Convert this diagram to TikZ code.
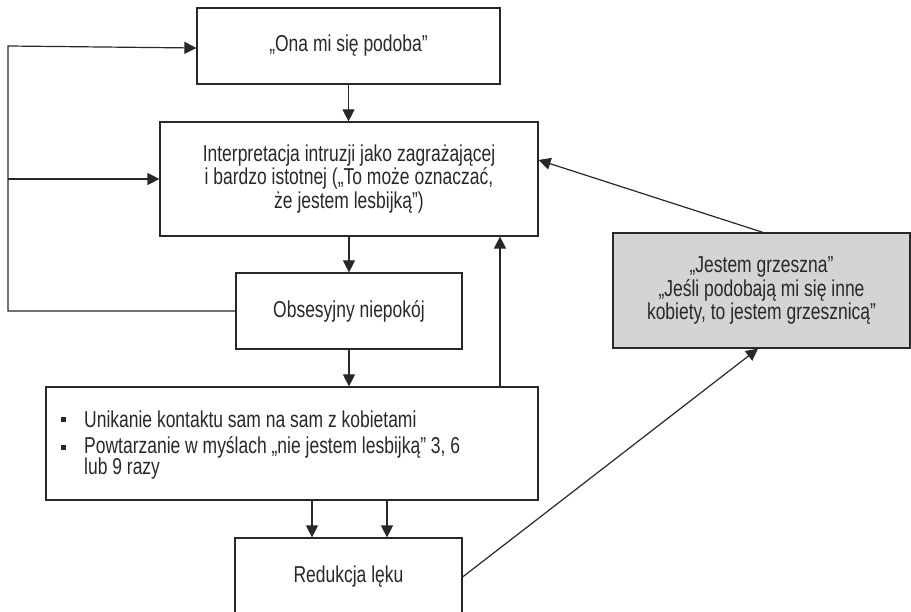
\documentclass[tikz,border=0pt]{standalone}
\usepackage{fontspec}
\setmainfont{Liberation Sans}[FakeStretch=0.76]
\usetikzlibrary{arrows.meta}
\definecolor{boxgray}{RGB}{212,212,214}
\definecolor{ink}{RGB}{40,40,40}
\begin{document}
\begin{tikzpicture}[x=1pt,y=-1pt,
  box/.style={draw=ink, line width=1.2pt, rectangle, inner sep=0pt, align=center, font=\fontsize{23}{23.5}\selectfont, text=ink},
  txt/.style={inner sep=0pt, font=\fontsize{23}{23.5}\selectfont, text=ink},
  arr/.style={draw=ink, line width=1.2pt, -{Triangle[length=12pt,width=12pt]}},
  ln/.style={draw=ink, line width=1.2pt},
  bullet/.style={fill=ink, minimum size=5pt, inner sep=0pt}]
\clip (0,0) rectangle (911,612);
\node[box, minimum width=303pt, minimum height=76pt] (ona) at (348.5,46) {„Ona mi się podoba”};
\node[box, minimum width=378pt, minimum height=114pt] (interp) at (349,179) {Interpretacja intruzji jako zagrażającej\\i bardzo istotnej („To może oznaczać,\\że jestem lesbijką”)};
\node[box, minimum width=226pt, minimum height=76pt] (obs) at (349,311) {Obsesyjny niepokój};
\node[box, minimum width=492pt, minimum height=113pt] (unik) at (292,443.5) {};
\node[bullet] (b1) at (63,420) {};
\node[bullet] (b2) at (63,447) {};
\node[txt, anchor=base west] (u1) at (84,427.5) {Unikanie kontaktu sam na sam z kobietami};
\node[txt, anchor=base west] (u2) at (84,453.5) {Powtarzanie w myślach „nie jestem lesbijką” 3, 6};
\node[txt, anchor=base west] (u3) at (84,474.5) {lub 9 razy};
\node[box, minimum width=227pt, minimum height=78pt] (red) at (348.5,577) {Redukcja lęku};
\node[box, fill=boxgray, minimum width=297pt, minimum height=115pt] (grz) at (761.5,290.5) {„Jestem grzeszna”\\„Jeśli podobają mi się inne\\kobiety, to jestem grzesznicą”};
\coordinate (L) at (8,0);
\coordinate (V) at (500,0);
\draw[arr] (ona.south) -- (ona.south |- interp.north);
\draw[arr] (interp.south) -- (obs.north);
\draw[arr] (obs.south) -- (obs.south |- unik.north);
\draw[arr] ([xshift=-36.5pt]red.north |- unik.south) -- ([xshift=-36.5pt]red.north);
\draw[arr] ([xshift=38.5pt]red.north |- unik.south) -- ([xshift=38.5pt]red.north);
\draw[arr] (unik.north -| V) -- (interp.south -| V);
\draw[arr] (obs.west) -- (obs.west -| L) -- (L |- ona.west) -- ([yshift=-2pt]ona.west);
\draw[arr] (L |- interp.west) -- (interp.west);
\draw[arr] ([xshift=1.5pt]grz.north) -- ([yshift=19pt]interp.east);
\draw[arr] (red.east) -- ([xshift=-3.5pt]grz.south);
\end{tikzpicture}
\end{document}
